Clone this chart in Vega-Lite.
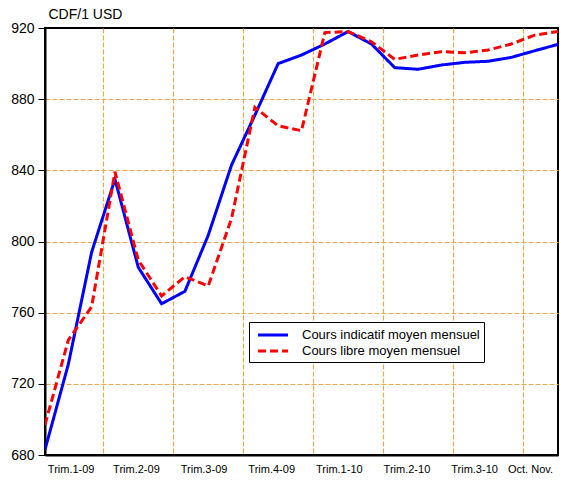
{
  "$schema": "https://vega.github.io/schema/vega-lite/v6.json",
  "autosize": "none",
  "width": 513,
  "height": 427,
  "padding": {"left": 45, "top": 28, "right": 10, "bottom": 29},
  "background": "white",
  "config": {
    "font": "Liberation Sans",
    "view": {"stroke": "black", "strokeWidth": 2}
  },
  "data": {
    "values": [
      {"t": 0, "mois": "2009-01", "serie": "Cours indicatif moyen mensuel", "cdf": 683},
      {"t": 1, "mois": "2009-02", "serie": "Cours indicatif moyen mensuel", "cdf": 731},
      {"t": 2, "mois": "2009-03", "serie": "Cours indicatif moyen mensuel", "cdf": 794},
      {"t": 3, "mois": "2009-04", "serie": "Cours indicatif moyen mensuel", "cdf": 835},
      {"t": 4, "mois": "2009-05", "serie": "Cours indicatif moyen mensuel", "cdf": 785.5},
      {"t": 5, "mois": "2009-06", "serie": "Cours indicatif moyen mensuel", "cdf": 765},
      {"t": 6, "mois": "2009-07", "serie": "Cours indicatif moyen mensuel", "cdf": 772},
      {"t": 7, "mois": "2009-08", "serie": "Cours indicatif moyen mensuel", "cdf": 803.5},
      {"t": 8, "mois": "2009-09", "serie": "Cours indicatif moyen mensuel", "cdf": 843},
      {"t": 9, "mois": "2009-10", "serie": "Cours indicatif moyen mensuel", "cdf": 871},
      {"t": 10, "mois": "2009-11", "serie": "Cours indicatif moyen mensuel", "cdf": 900},
      {"t": 11, "mois": "2009-12", "serie": "Cours indicatif moyen mensuel", "cdf": 904.8},
      {"t": 12, "mois": "2010-01", "serie": "Cours indicatif moyen mensuel", "cdf": 911},
      {"t": 13, "mois": "2010-02", "serie": "Cours indicatif moyen mensuel", "cdf": 918},
      {"t": 14, "mois": "2010-03", "serie": "Cours indicatif moyen mensuel", "cdf": 911},
      {"t": 15, "mois": "2010-04", "serie": "Cours indicatif moyen mensuel", "cdf": 897.7},
      {"t": 16, "mois": "2010-05", "serie": "Cours indicatif moyen mensuel", "cdf": 896.8},
      {"t": 17, "mois": "2010-06", "serie": "Cours indicatif moyen mensuel", "cdf": 899.2},
      {"t": 18, "mois": "2010-07", "serie": "Cours indicatif moyen mensuel", "cdf": 900.7},
      {"t": 19, "mois": "2010-08", "serie": "Cours indicatif moyen mensuel", "cdf": 901.3},
      {"t": 20, "mois": "2010-09", "serie": "Cours indicatif moyen mensuel", "cdf": 903.5},
      {"t": 21, "mois": "2010-10", "serie": "Cours indicatif moyen mensuel", "cdf": 907.2},
      {"t": 22, "mois": "2010-11", "serie": "Cours indicatif moyen mensuel", "cdf": 910.8},
      {"t": 0, "mois": "2009-01", "serie": "Cours libre moyen mensuel", "cdf": 697},
      {"t": 1, "mois": "2009-02", "serie": "Cours libre moyen mensuel", "cdf": 744.6},
      {"t": 2, "mois": "2009-03", "serie": "Cours libre moyen mensuel", "cdf": 763.3},
      {"t": 3, "mois": "2009-04", "serie": "Cours libre moyen mensuel", "cdf": 839.2},
      {"t": 4, "mois": "2009-05", "serie": "Cours libre moyen mensuel", "cdf": 789.6},
      {"t": 5, "mois": "2009-06", "serie": "Cours libre moyen mensuel", "cdf": 769.4},
      {"t": 6, "mois": "2009-07", "serie": "Cours libre moyen mensuel", "cdf": 780.2},
      {"t": 7, "mois": "2009-08", "serie": "Cours libre moyen mensuel", "cdf": 775},
      {"t": 8, "mois": "2009-09", "serie": "Cours libre moyen mensuel", "cdf": 813},
      {"t": 9, "mois": "2009-10", "serie": "Cours libre moyen mensuel", "cdf": 875.4},
      {"t": 10, "mois": "2009-11", "serie": "Cours libre moyen mensuel", "cdf": 865},
      {"t": 11, "mois": "2009-12", "serie": "Cours libre moyen mensuel", "cdf": 862.3},
      {"t": 12, "mois": "2010-01", "serie": "Cours libre moyen mensuel", "cdf": 917.4},
      {"t": 13, "mois": "2010-02", "serie": "Cours libre moyen mensuel", "cdf": 918},
      {"t": 14, "mois": "2010-03", "serie": "Cours libre moyen mensuel", "cdf": 912.3},
      {"t": 15, "mois": "2010-04", "serie": "Cours libre moyen mensuel", "cdf": 902.4},
      {"t": 16, "mois": "2010-05", "serie": "Cours libre moyen mensuel", "cdf": 904.8},
      {"t": 17, "mois": "2010-06", "serie": "Cours libre moyen mensuel", "cdf": 906.7},
      {"t": 18, "mois": "2010-07", "serie": "Cours libre moyen mensuel", "cdf": 906.1},
      {"t": 19, "mois": "2010-08", "serie": "Cours libre moyen mensuel", "cdf": 907.6},
      {"t": 20, "mois": "2010-09", "serie": "Cours libre moyen mensuel", "cdf": 911},
      {"t": 21, "mois": "2010-10", "serie": "Cours libre moyen mensuel", "cdf": 916},
      {"t": 22, "mois": "2010-11", "serie": "Cours libre moyen mensuel", "cdf": 918}
    ]
  },
  "mark": {"type": "line", "strokeWidth": 3, "clip": true},
  "encoding": {
    "x": {
      "field": "t",
      "type": "quantitative",
      "scale": {"domain": [0, 22], "nice": false, "zero": false},
      "axis": {
        "title": null,
        "values": [1.1, 2.5, 3.9, 5.5, 6.8, 8.5, 9.7, 11.5, 12.6, 14.5, 15.5, 17.5, 18.4, 20.5, 20.8],
        "labelExpr": "indexof([1.1, 3.9, 6.8, 9.7, 12.6, 15.5, 18.4, 20.8], datum.value) < 0 ? '' : ['Trim.1-09', 'Trim.2-09', 'Trim.3-09', 'Trim.4-09', 'Trim.1-10', 'Trim.2-10', 'Trim.3-10', 'Oct. Nov.'][indexof([1.1, 3.9, 6.8, 9.7, 12.6, 15.5, 18.4, 20.8], datum.value)]",
        "labelOverlap": false,
        "labelFontSize": 11,
        "labelColor": "black",
        "labelPadding": 8,
        "labelFlush": false,
        "ticks": false,
        "domainColor": "black",
        "domainWidth": 2,
        "grid": true,
        "gridColor": "#E3A955",
        "gridDash": [5, 2],
        "gridWidth": 1.2,
        "gridOpacity": {"condition": {"test": "datum.value % 3 == 2.5", "value": 1}, "value": 0}
      }
    },
    "y": {
      "field": "cdf",
      "type": "quantitative",
      "scale": {"domain": [680, 920], "nice": false, "zero": false},
      "axis": {
        "values": [680, 720, 760, 800, 840, 880, 920],
        "title": "CDF/1 USD",
        "titleAngle": 0,
        "titleAlign": "left",
        "titleBaseline": "alphabetic",
        "titleX": 3,
        "titleY": -10,
        "titleFontSize": 14,
        "titleFontWeight": "normal",
        "titleColor": "black",
        "labelFontSize": 14,
        "labelColor": "black",
        "labelPadding": 4,
        "tickSize": 7,
        "tickColor": "black",
        "domainColor": "black",
        "domainWidth": 2,
        "grid": true,
        "gridColor": "#E3A955",
        "gridDash": [5, 2],
        "gridWidth": 1.2,
        "gridOpacity": {"condition": {"test": "datum.value == 680 || datum.value == 920", "value": 0}, "value": 1}
      }
    },
    "color": {
      "field": "serie",
      "type": "nominal",
      "scale": {
        "domain": ["Cours indicatif moyen mensuel", "Cours libre moyen mensuel"],
        "range": ["#0000FF", "#FF0000"]
      },
      "legend": {
        "title": null,
        "orient": "none",
        "legendX": 204,
        "legendY": 294,
        "direction": "vertical",
        "strokeColor": "black",
        "fillColor": "white",
        "padding": 4,
        "rowPadding": 0,
        "labelFontSize": 13,
        "labelColor": "black",
        "labelLimit": 400,
        "symbolType": "M-2,0H2",
        "symbolStrokeWidth": 3,
        "symbolSize": 225,
        "symbolOffset": 11,
        "labelOffset": 20
      }
    },
    "strokeDash": {
      "field": "serie",
      "type": "nominal",
      "scale": {
        "domain": ["Cours indicatif moyen mensuel", "Cours libre moyen mensuel"],
        "range": [[1, 0], [8, 4]]
      },
      "legend": null
    }
  }
}
